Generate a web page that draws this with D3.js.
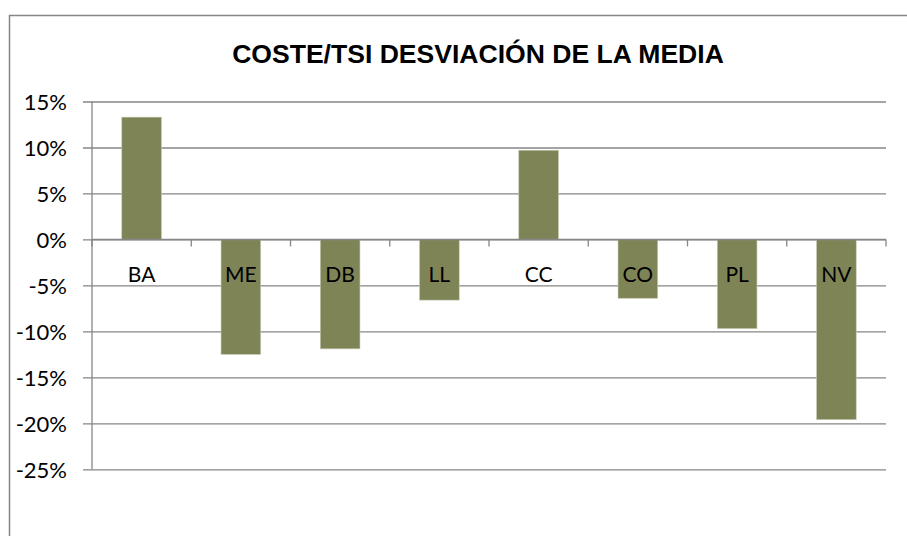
<!DOCTYPE html>
<html><head><meta charset="utf-8">
<script src="https://cdn.jsdelivr.net/npm/d3@7"></script>
<style>html,body{margin:0;padding:0;background:#fff;}svg{display:block;}</style>
</head><body>
<svg id="chart" width="907" height="536"></svg>
<script>
const categories = ["BA","ME","DB","LL","CC","CO","PL","NV"];
const values = [0.133,-0.125,-0.119,-0.066,0.097,-0.064,-0.097,-0.196];
const yTicks = [0.15,0.10,0.05,0,-0.05,-0.10,-0.15,-0.20,-0.25];
const title = "COSTE/TSI DESVIACIÓN DE LA MEDIA";

(function(){
const svg = d3.select("#chart");
const grey = "#868686";
// outer border (cropped on right/bottom)
svg.append("rect").attr("x",9.5).attr("y",15.5).attr("width",1000).attr("height",1000)
  .attr("fill","none").attr("stroke",grey).attr("stroke-width",1.5);

const pL = 92, pR = 886, pT = 101.5, pB = 469.3;
const x = d3.scaleBand().domain(categories).range([pL,pR]).padding(0);
const y = d3.scaleLinear().domain([-0.25,0.15]).range([pB,pT]);
const pct = d => (Math.round(d*100)) + "%";

// gridlines + y ticks
const yAxis = d3.axisLeft(y).tickValues(yTicks).tickSize(-(pR-pL)).tickSizeOuter(0)
  .tickPadding(25).tickFormat(pct);
const gy = svg.append("g").attr("transform",`translate(${pL},0)`).call(yAxis);
gy.select(".domain").remove();
gy.selectAll(".tick line").attr("stroke",grey).attr("stroke-width",1.3).attr("x1",-9);
gy.selectAll(".tick text").attr("font-family","Lato, 'Open Sans', sans-serif")
  .attr("font-size",22).attr("fill","#000").attr("dy","0.38em");
// y axis line
svg.append("line").attr("x1",pL).attr("x2",pL).attr("y1",pT).attr("y2",pB)
  .attr("stroke",grey).attr("stroke-width",1.3);

// bars
const bw = x.bandwidth()/2.5;
svg.append("g").selectAll("rect").data(categories).join("rect")
  .attr("x",(d)=>x(d)+(x.bandwidth()-bw)/2)
  .attr("width",bw)
  .attr("y",(d,i)=>y(Math.max(0,values[i])))
  .attr("height",(d,i)=>Math.abs(y(values[i])-y(0)))
  .attr("fill","#7f8457").attr("stroke","#c9cbb4").attr("stroke-width",0.6);

// x axis (at zero)
svg.append("line").attr("x1",pL).attr("x2",pR).attr("y1",y(0)).attr("y2",y(0))
  .attr("stroke",grey).attr("stroke-width",1.5);
const bounds = categories.map(c=>x(c)).concat([pR]);
svg.append("g").selectAll("line").data(bounds).join("line")
  .attr("x1",d=>d).attr("x2",d=>d).attr("y1",y(0)).attr("y2",y(0)+7)
  .attr("stroke",grey).attr("stroke-width",1.3);
// category labels
svg.append("g").selectAll("text").data(categories).join("text")
  .attr("x",d=>x(d)+x.bandwidth()/2).attr("y",282)
  .attr("text-anchor","middle").attr("font-family","Lato, 'Open Sans', sans-serif")
  .attr("font-size",21).attr("fill","#000").text(d=>d);

// title, fitted to the reference width
const t = svg.append("text").attr("x",478).attr("y",63).attr("text-anchor","middle")
  .attr("font-family","'Liberation Sans', Arial, sans-serif").attr("font-weight","bold")
  .attr("font-size",24.5).attr("fill","#000").text(title);
const w = t.node().getComputedTextLength();
if (w > 0) t.attr("font-size", 24.5 * 492 / w);
})();
</script>
</body></html>
